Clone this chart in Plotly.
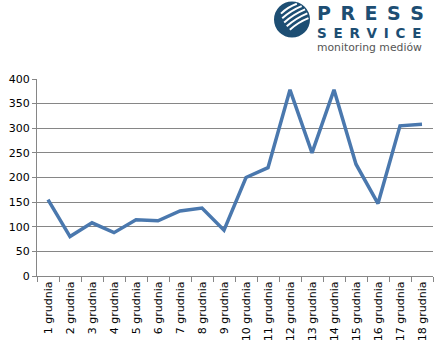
import math
import plotly.graph_objects as go

days = [f"{i} grudnia" for i in range(1, 19)]
values = [155, 80, 108, 88, 114, 112, 132, 138, 93, 200, 220, 378, 250, 378, 227, 147, 305, 308]
y_ticks = [0, 50, 100, 150, 200, 250, 300, 350, 400]

W, H = 446, 354
L, R, T, B = 37, 13, 79, 78
pw, ph = W - L - R, H - T - B

def px(x):
    return (x - L) / pw

def py(y):
    return (H - B - y) / ph

fig = go.Figure()
fig.add_trace(go.Scatter(
    x=days, y=values, mode="lines",
    line=dict(color="#4a78ae", width=3.5),
    hoverinfo="skip", showlegend=False,
))

font = dict(family="DejaVu Sans", size=11, color="#000000")

fig.update_layout(
    width=W, height=H,
    margin=dict(l=L, r=R, t=T, b=B, autoexpand=False),
    paper_bgcolor="white", plot_bgcolor="white",
    font=font,
    xaxis=dict(
        type="category", tickangle=-90, showgrid=False,
        showline=True, linecolor="#868686", linewidth=1,
        ticks="outside", ticklen=5, tickcolor="#868686",
        tickson="boundaries", range=[-0.5, 17.5], tickfont=font,
        fixedrange=True, automargin=False,
    ),
    yaxis=dict(
        range=[0, 400], tickvals=y_ticks, showgrid=True,
        gridcolor="#868686", gridwidth=1,
        showline=True, linecolor="#868686", linewidth=1,
        ticks="outside", ticklen=4, tickcolor="#868686",
        zeroline=False, tickfont=font, fixedrange=True, automargin=False,
    ),
)

# Logo: circle with white stripes
blue = "#1d4e73"
cx, cy, r = 292, 19.5, 18
fig.add_shape(type="circle", xref="paper", yref="paper",
              x0=px(cx - r), x1=px(cx + r), y0=py(cy + r), y1=py(cy - r),
              fillcolor=blue, line=dict(width=0), layer="above")
ang = math.radians(32)
ux, uy = math.cos(ang), -math.sin(ang)
nx, ny = math.sin(ang), math.cos(ang)
for k in range(5):
    qx = cx - 6 + k * 4.6 * nx
    qy = cy - 9 + k * 4.6 * ny
    dx, dy = qx - cx, qy - cy
    rr = r - 1.5
    b = dx * ux + dy * uy
    c = dx * dx + dy * dy - rr * rr
    disc = b * b - c
    if disc <= 0:
        continue
    t1, t2 = -b - math.sqrt(disc), -b + math.sqrt(disc)
    ts = t1 + 0.25 * (t2 - t1)
    te = t2
    sx, sy = qx + ts * ux, qy + ts * uy
    ex, ey = qx + te * ux, qy + te * uy
    mx, my = (sx + ex) / 2 - 2.0 * nx, (sy + ey) / 2 - 2.0 * ny
    fig.add_shape(type="path", xref="paper", yref="paper",
                  path=f"M {px(sx)} {py(sy)} Q {px(mx)} {py(my)} {px(ex)} {py(ey)}",
                  line=dict(color="white", width=2), layer="above")

en = "\u2002"
fig.add_annotation(text="<b>" + en.join("PRESS") + "</b>", xref="paper", yref="paper",
                   x=px(317), y=py(2.5), xanchor="left", yanchor="top",
                   borderwidth=0, borderpad=0, showarrow=False,
                   font=dict(family="DejaVu Sans", size=19, color=blue))
fig.add_annotation(text="<b>" + en.join("SERVICE") + "</b>", xref="paper", yref="paper",
                   x=px(317), y=py(25), xanchor="left", yanchor="top",
                   borderwidth=0, borderpad=0, showarrow=False,
                   font=dict(family="DejaVu Sans", size=13.5, color=blue))
fig.add_annotation(text="monitoring mediów", xref="paper", yref="paper",
                   x=px(317), y=py(41), xanchor="left", yanchor="top",
                   borderwidth=0, borderpad=0, showarrow=False,
                   font=dict(family="DejaVu Sans", size=10.8, color="#555555"))

fig.write_html("out.html")
